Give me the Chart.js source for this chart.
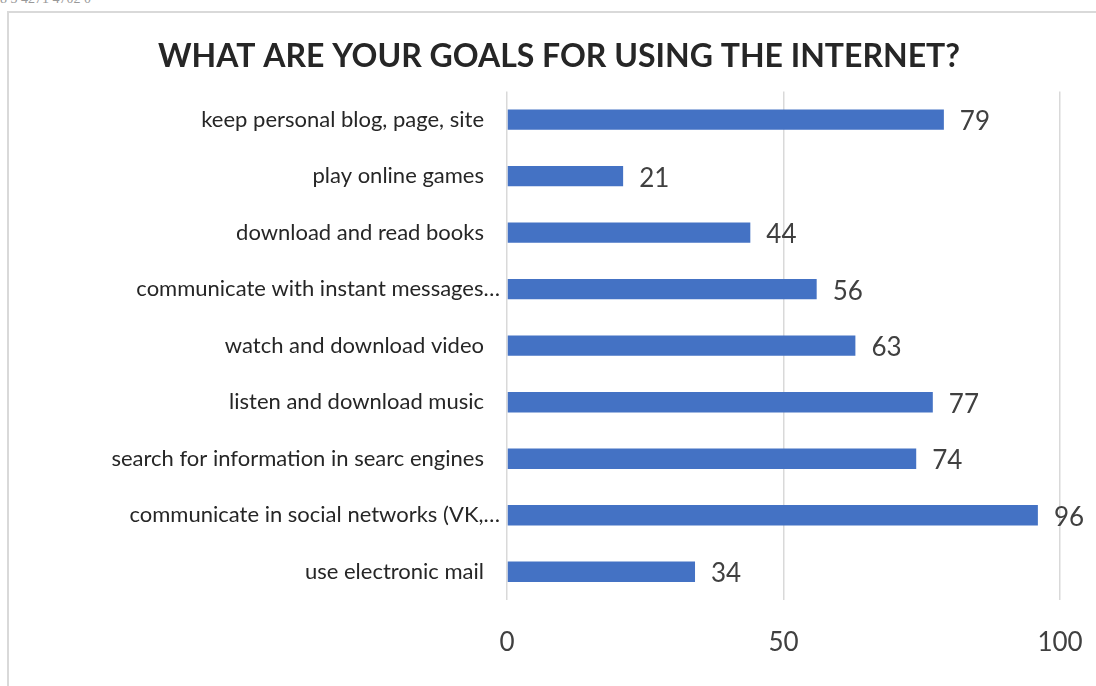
<!DOCTYPE html>
<html>
<head>
<meta charset="utf-8">
<script src="https://cdn.jsdelivr.net/npm/chart.js@4"></script>
<style>
  html, body { margin: 0; padding: 0; background: #ffffff; overflow: hidden; width: 1096px; height: 686px; }
  #frame { position: absolute; left: 7px; top: 11px; width: 1200px; height: 800px; border: 2px solid #d9d9d9; box-sizing: border-box; }
  #ref { position: absolute; left: 0px; top: -9px; font-family: "Liberation Serif", serif; font-size: 14px; color: #999; }
  #c { position: absolute; left: 0; top: 0; }
</style>
</head>
<body>
<div id="ref">8 3 4271 4702 0</div>
<div id="frame"></div>
<canvas id="c" width="1096" height="686"></canvas>
<script>
const chartTitle = "WHAT ARE YOUR GOALS FOR USING THE INTERNET?";
const categories = [
  "keep personal blog, page, site",
  "play online games",
  "download and read books",
  "communicate with instant messages…",
  "watch and download video",
  "listen and download music",
  "search for information in searc engines",
  "communicate in social networks (VK,…",
  "use electronic mail"
];
const values = [79, 21, 44, 56, 63, 77, 74, 96, 34];
const xTicks = [0, 50, 100];

const FONT = "Lato, 'Open Sans', sans-serif";

const valueLabels = {
  id: 'valueLabels',
  afterDatasetsDraw(chart) {
    const ctx = chart.ctx;
    const meta = chart.getDatasetMeta(0);
    ctx.save();
    ctx.font = "26px " + FONT;
    ctx.fillStyle = "#404040";
    ctx.textAlign = "left";
    ctx.textBaseline = "middle";
    meta.data.forEach((bar, i) => {
      ctx.fillText(String(values[i]), bar.x + 16, bar.y + 2);
    });
    ctx.restore();
  }
};

// category labels drawn at the y scale's pixel positions; truncated labels overhang like the original
const categoryLabels = {
  id: 'categoryLabels',
  afterDraw(chart) {
    const ctx = chart.ctx;
    const y = chart.scales.y;
    const left = chart.chartArea.left;
    ctx.save();
    ctx.font = "22px " + FONT;
    ctx.fillStyle = "#262626";
    ctx.textAlign = "right";
    ctx.textBaseline = "middle";
    categories.forEach((lab, i) => {
      const over = lab.endsWith("…") ? -7 : -23;
      ctx.fillText(lab, left + over, y.getPixelForValue(i));
    });
    ctx.restore();
  }
};

new Chart(document.getElementById('c'), {
  type: 'bar',
  data: {
    labels: categories,
    datasets: [{
      data: values,
      backgroundColor: '#4472C4',
      borderWidth: 0,
      barPercentage: 0.6,
      categoryPercentage: 0.6
    }]
  },
  options: {
    indexAxis: 'y',
    responsive: false,
    animation: false,
    devicePixelRatio: 1,
    layout: { padding: { left: 58, right: 36, top: 0, bottom: 0 } },
    plugins: {
      legend: { display: false },
      tooltip: { enabled: false },
      title: {
        display: true,
        text: chartTitle,
        color: '#262626',
        font: { family: FONT, size: 32, weight: 'bold', lineHeight: 1.2 },
        padding: { top: 37, bottom: 16 }
      }
    },
    scales: {
      x: {
        min: 0, max: 100,
        afterBuildTicks(scale) { scale.ticks = xTicks.map(v => ({ value: v })); },
        afterFit(scale) { scale.height = 86; scale.paddingLeft = 0; scale.paddingRight = 0; },
        grid: { color: '#d9d9d9', lineWidth: 1.5, drawTicks: false },
        border: { display: false },
        ticks: { color: '#404040', font: { family: FONT, size: 26 }, padding: 27 }
      },
      y: {
        afterFit(scale) { scale.width = 507 - 58; scale.paddingTop = 0; scale.paddingBottom = 0; },
        grid: { display: false, drawTicks: false },
        border: { display: false },
        ticks: { display: false, autoSkip: false }
      }
    }
  },
  plugins: [valueLabels, categoryLabels]
});
</script>
</body>
</html>
